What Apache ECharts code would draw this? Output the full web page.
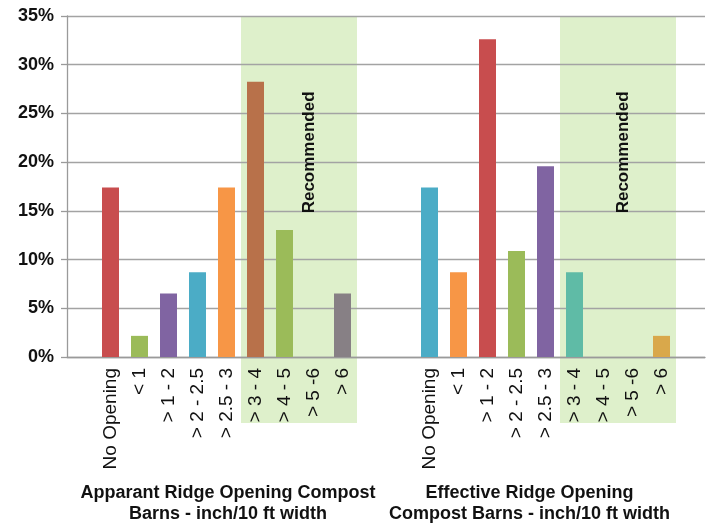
<!DOCTYPE html>
<html><head><meta charset="utf-8">
<script src="https://cdn.jsdelivr.net/npm/echarts@6/dist/echarts.min.js"></script>
<style>html,body{margin:0;padding:0;background:#fff}#c{width:710px;height:525px}</style>
</head><body><div id="c"></div>
<script>
// ---- data ----
const groupLabels = ['No Opening', '< 1', '> 1 - 2', '> 2 - 2.5', '> 2.5 - 3', '> 3 - 4', '> 4 - 5', '> 5 -6', '> 6'];
const apparentValues = [17.39, 2.17, 6.52, 8.70, 17.39, 28.26, 13.04, 0, 6.52];
const effectiveValues = [17.39, 8.70, 32.61, 10.87, 19.57, 8.70, 0, 0, 2.17];
const apparentColors = ['#C84D4E', '#9BBB59', '#8064A2', '#4BACC6', '#F79646', '#B8714A', '#9BBB59', '#9BBB59', '#878085'];
const effectiveColors = ['#4BACC6', '#F79646', '#C84D4E', '#9BBB59', '#8064A2', '#5FBBA6', '#5FBBA6', '#5FBBA6', '#D9A84B'];
const recommendedFlags = [0, 0, 0, 0, 0, 1, 1, 1, 1];
const groupTitles = ['Apparant Ridge Opening Compost\nBarns - inch/10 ft width', 'Effective Ridge Opening\nCompost Barns - inch/10 ft width'];
const recommendedText = 'Recommended';
const yMax = 35, yStep = 5;

// ---- build slots: pad, group1, pad, pad, group2, pad ----
const slotLabels = [''].concat(groupLabels, ['', ''], groupLabels, ['']);
const slotKeys = slotLabels.map((_, i) => String(i));
const g1 = 1, g2 = 1 + groupLabels.length + 2;
const barData = slotLabels.map(() => null);
const bgData = slotLabels.map(() => null);
groupLabels.forEach((_, i) => {
  barData[g1 + i] = { value: apparentValues[i], itemStyle: { color: apparentColors[i] } };
  barData[g2 + i] = { value: effectiveValues[i], itemStyle: { color: effectiveColors[i] } };
  if (recommendedFlags[i]) { bgData[g1 + i] = 1; bgData[g2 + i] = 1; }
});

const chart = echarts.init(document.getElementById('c'), null, { renderer: 'canvas' });
const FONT = 'Liberation Sans, Arial, sans-serif';
const option = {
  animation: false,
  backgroundColor: '#fff',
  grid: [
    { left: 67, right: 5, top: 16, bottom: 168 },
    { left: 67, right: 5, top: 16, bottom: 102 }
  ],
  xAxis: [
    {
      type: 'category', data: slotKeys, gridIndex: 0, z: 1,
      axisLine: { lineStyle: { color: '#9a9a9a', width: 1.3 } },
      axisTick: { show: false },
      axisLabel: {
        interval: 0, rotate: 90, margin: 11, color: '#111', fontSize: 19, fontFamily: FONT,
        formatter: (v, idx) => slotLabels[idx]
      }
    },
    { type: 'category', data: slotKeys, gridIndex: 1, show: false }
  ],
  yAxis: [
    {
      type: 'value', min: 0, max: yMax, interval: yStep, gridIndex: 0, z: 1,
      axisLine: { show: true, lineStyle: { color: '#9a9a9a', width: 1.3 } },
      axisTick: { show: true, length: 6, lineStyle: { color: '#9a9a9a', width: 1.3 } },
      splitLine: { lineStyle: { color: '#a3a3a3', width: 1.3 } },
      axisLabel: { formatter: '{value}%', margin: 13, color: '#111', fontSize: 18, fontWeight: 'bold', fontFamily: FONT }
    },
    { type: 'value', min: 0, max: 1, gridIndex: 1, show: false }
  ],
  series: [
    {
      type: 'bar', xAxisIndex: 1, yAxisIndex: 1, data: bgData, barWidth: '100%', z: 0,
      itemStyle: { color: '#DEF0CB' }, silent: true
    },
    {
      type: 'bar', xAxisIndex: 0, yAxisIndex: 0, data: barData, barWidth: 17, z: 2,
      itemStyle: { borderWidth: 0 }
    }
  ]
};
chart.setOption(option);

// positions derived from the axes
const px = (i) => chart.convertToPixel({ xAxisIndex: 0 }, String(i));
const xAt = (f) => { const a = px(0), b = px(1); return a + f * (b - a); };
const yAt = (v) => chart.convertToPixel({ yAxisIndex: 0 }, v);
const y0 = yAt(0);
const graphics = [];
[g1 + 6.85, g2 + 6.7].forEach((f) => {
  graphics.push({
    type: 'text', x: xAt(f), y: yAt(21), rotation: Math.PI / 2, z: 5,
    style: { text: recommendedText, fontSize: 17, fontWeight: 'bold', fontFamily: FONT, fill: '#111', align: 'center', verticalAlign: 'middle' }
  });
});
[g1 + 4.05, g2 + 3.45].forEach((f, k) => {
  graphics.push({
    type: 'text', x: xAt(f), y: y0 + 147, z: 5, scaleX: 1.0,
    style: { text: groupTitles[k], fontSize: 18, fontWeight: 'bold', fontFamily: FONT, fill: '#111', align: 'center', verticalAlign: 'middle', lineHeight: 21 }
  });
});
chart.setOption({ graphic: graphics });
</script></body></html>
